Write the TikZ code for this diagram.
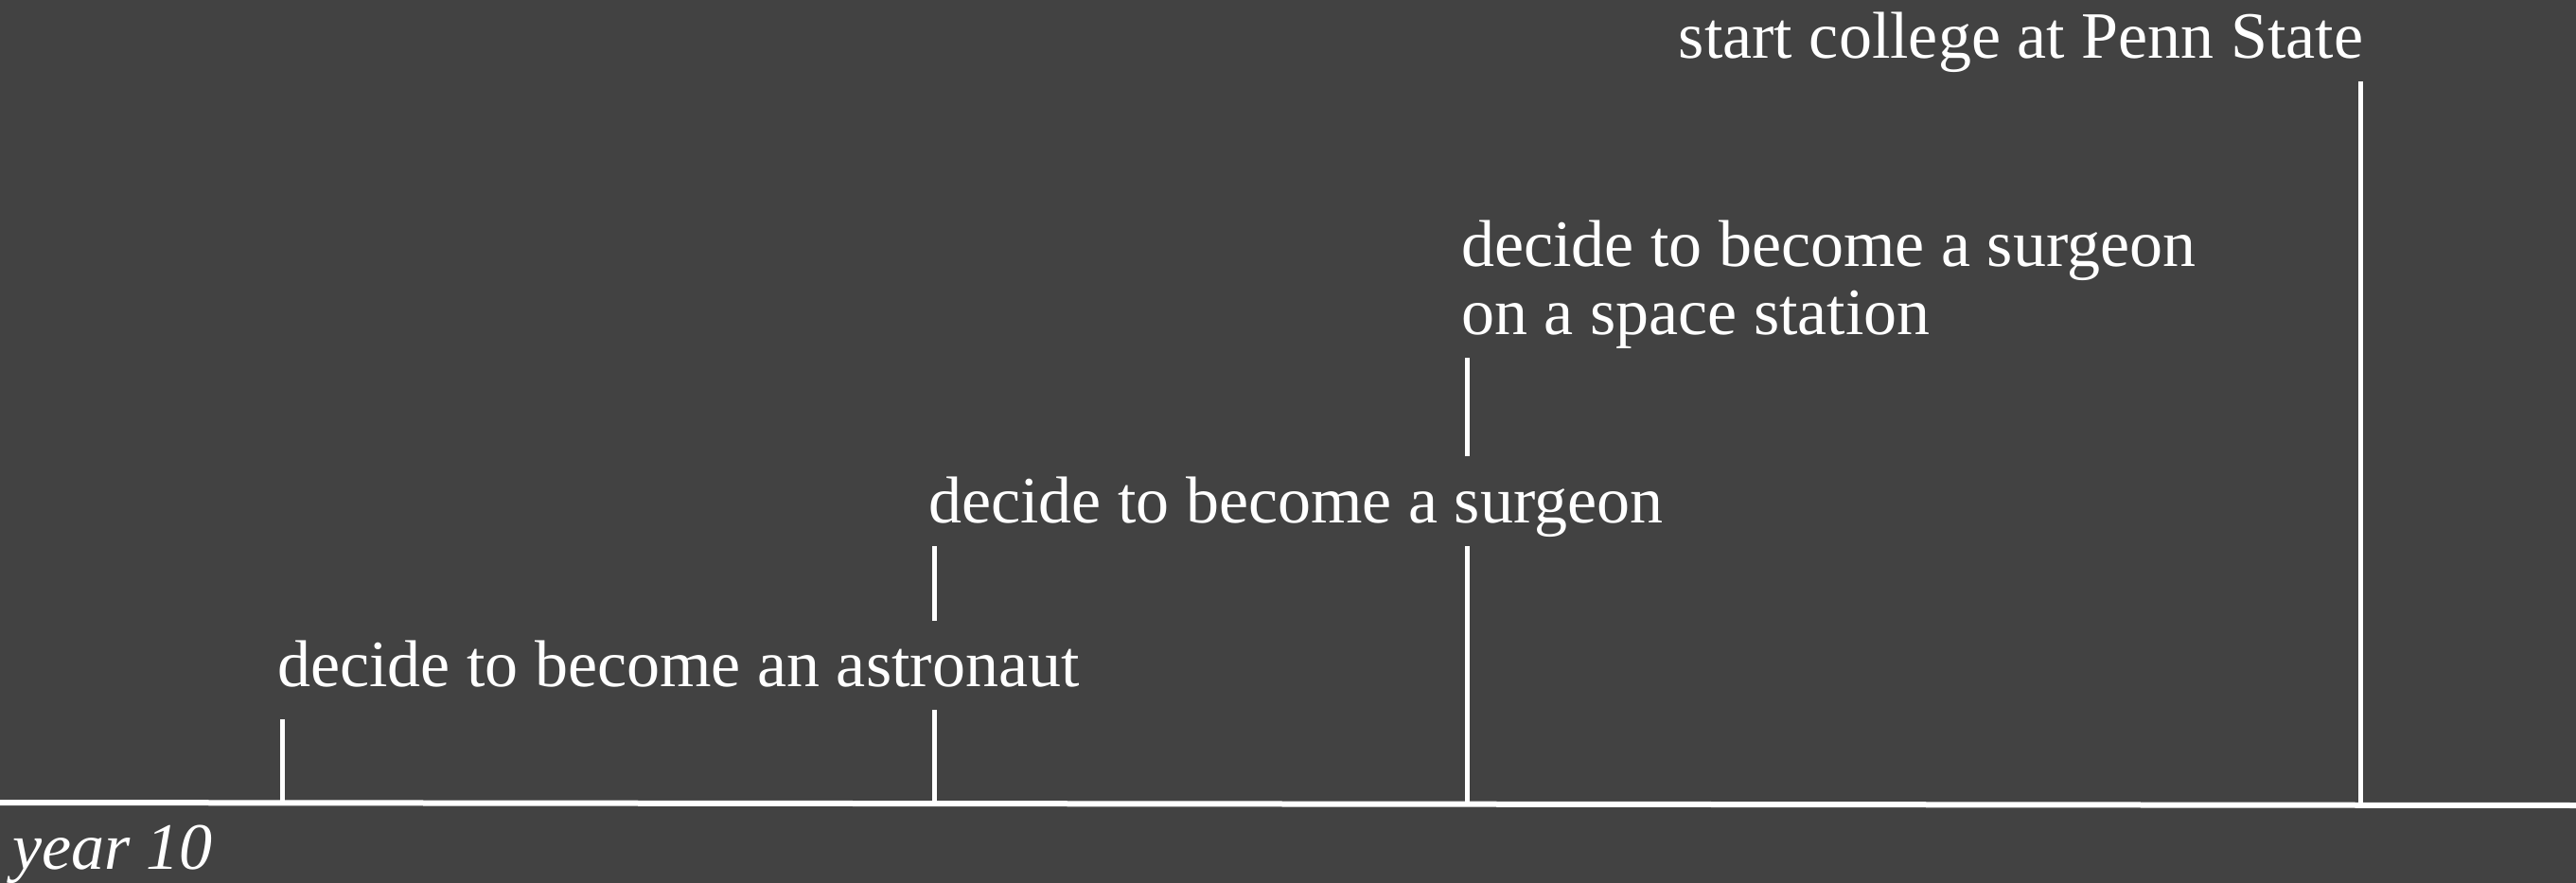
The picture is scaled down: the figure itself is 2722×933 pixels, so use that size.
\documentclass[tikz,border=0pt]{standalone}
\usepackage{fontspec}
\setmainfont{Liberation Serif}
\definecolor{bg}{HTML}{424242}
\begin{document}
\begin{tikzpicture}[x=1pt,y=-1pt,
  label/.style={inner sep=0pt,outer sep=0pt,text=white,font=\fontsize{70}{72}\selectfont},
  tick/.style={draw=white,line width=5pt},
  axis/.style={draw=white,line width=6pt}]
\fill[bg] (0,0) rectangle (2722,933);
\useasboundingbox (0,0) rectangle (2722,933);
% axis
\coordinate (L) at (0,848);
\coordinate (R) at (2722,851);
\draw[axis] (L) -- (R);
% tick feet on the axis
\coordinate (t1) at (298,848);
\coordinate (t2) at (987,848.8);
\coordinate (t3) at (1550,849.7);
\coordinate (t4) at (2494,850.7);
% labels
\node[label,anchor=base west] (astro) at (293,725) {decide to become an astronaut};
\node[label,anchor=base west] (surg) at (981,552) {decide to become a surgeon};
\node[label,anchor=base west,align=left] (space) at (1544,353) {decide to become a surgeon\\on a space station};
\node[label,anchor=base east] (penn) at (2497,62) {start college at Penn State};
\node[label,anchor=base west,font=\fontsize{70}{72}\selectfont\itshape] (year) at (13,918) {year 10};
% ticks
\draw[tick] (t1) -- (298,760);
\draw[tick] (t2) -- (987,750);
\draw[tick] (987,656) -- (987,577);
\draw[tick] (t3) -- (1550,577);
\draw[tick] (1550,482) -- (1550,378);
\draw[tick] (t4) -- (2494,86);
\end{tikzpicture}
\end{document}
